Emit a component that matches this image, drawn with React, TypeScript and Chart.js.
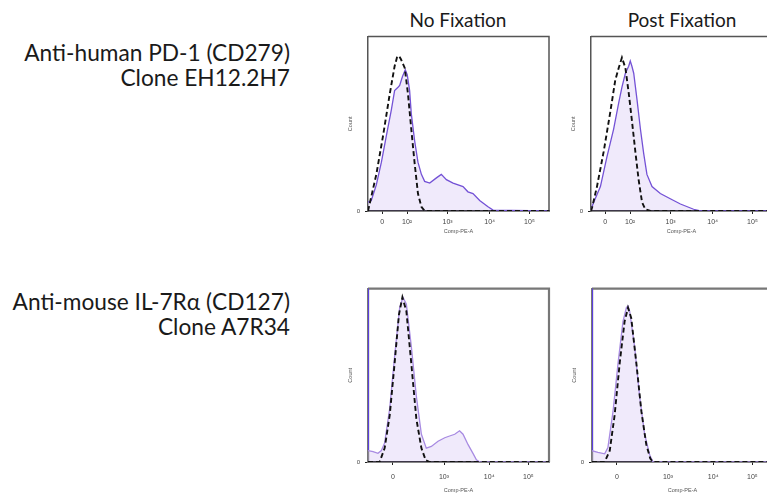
import React, { useEffect, useRef } from 'react';
import { Chart, registerables } from 'chart.js';

Chart.register(...registerables);

// ---------- text ----------
const columnTitles = ['No Fixation', 'Post Fixation'];
const rowLabelsPD1 = ['Anti-human PD-1 (CD279)', 'Clone EH12.2H7'];
const rowLabelsIL7 = ['Anti-mouse IL-7Rα (CD127)', 'Clone A7R34'];
const xAxisTitle = 'Comp-PE-A';
const yAxisTitle = 'Count';

// ---------- tick labels (x in display channels 0..1000) ----------
const topTickValues = [79, 216, 440, 672, 892];
const topTickLabels = ['0', '10²', '10³', '10⁴', '10⁵'];
const bottomTickValues = [138, 420, 670, 886];
const bottomTickLabels = ['0', '10³', '10⁴', '10⁵'];

// ---------- PD-1, No Fixation ----------
const pd1NoFixStainedX = [0, 18, 46, 74, 101, 129, 147, 166, 175, 190, 206, 217, 230, 239, 258, 276, 295, 313, 341, 378, 405, 433, 470, 525, 552, 580, 617, 663, 691, 1000];
const pd1NoFixStainedY = [5, 6, 15, 28, 43, 58, 69, 71, 72, 77, 81, 78, 69, 56, 40, 28, 21, 17, 16, 19, 21, 18, 16, 14, 11, 10, 6, 2.4, 0.5, 0];
const pd1NoFixIsotypeX = [0, 9, 46, 83, 120, 147, 160, 171, 182, 203, 221, 239, 258, 276, 295, 313, 1000];
const pd1NoFixIsotypeY = [0, 4, 21, 43, 67, 83, 88, 89, 87, 82, 67, 47, 27, 10, 2.4, 0, 0];

// ---------- PD-1, Post Fixation ----------
const pd1PostFixStainedX = [0, 15, 52, 88, 125, 153, 171, 190, 199, 208, 217, 226, 236, 254, 273, 291, 309, 337, 383, 438, 494, 567, 604, 1000];
const pd1PostFixStainedY = [1, 5, 14, 31, 47, 62, 71, 79, 81, 83, 86, 83, 79, 64, 47, 33, 21, 14, 10, 7, 4, 1, 0, 0];
const pd1PostFixIsotypeX = [0, 6, 33, 70, 107, 134, 153, 171, 190, 208, 227, 245, 263, 282, 300, 328, 1000];
const pd1PostFixIsotypeY = [0, 2, 14, 34, 57, 75, 82, 88, 82, 68, 51, 34, 18, 5, 1, 0, 0];

// ---------- IL-7Rα, No Fixation ----------
const il7NoFixStainedX = [0, 0, 28, 55, 74, 92, 120, 147, 175, 193, 212, 239, 267, 295, 322, 350, 387, 424, 451, 479, 506, 525, 553, 580, 599, 617, 1000];
const il7NoFixStainedY = [150, 6.6, 6, 5, 6.6, 11, 31, 61, 89, 95, 91, 67, 38, 16, 8, 9, 12, 14, 15, 16, 18, 16, 10, 5, 1.3, 0, 0];
const il7NoFixIsotypeX = [0, 64, 92, 120, 147, 171, 190, 212, 239, 267, 295, 319, 341, 1000];
const il7NoFixIsotypeY = [0, 0, 8, 27, 57, 85, 95, 87, 57, 25, 8, 1, 0, 0];

// ---------- IL-7Rα, Post Fixation ----------
const il7PostFixStainedX = [0, 0, 33, 70, 88, 116, 144, 171, 190, 199, 208, 236, 263, 291, 319, 337, 1000];
const il7PostFixStainedY = [150, 6.5, 5.6, 4.7, 8.4, 29, 57, 81, 89, 90, 87, 66, 38, 16, 4, 0, 0];
const il7PostFixIsotypeX = [0, 70, 98, 125, 153, 180, 199, 217, 245, 273, 300, 322, 337, 1000];
const il7PostFixIsotypeY = [0, 0, 6.5, 27, 57, 81, 89, 83, 57, 29, 10, 2, 0, 0];

const TICK_FONT = 'Liberation Sans, Arial, sans-serif';
const TEXT_FONT = 'Lato, "Open Sans", sans-serif';

type PanelProps = {
  plotLeft: number;
  plotTop: number;
  plotW: number;
  plotH: number;
  xAxisH: number;
  tickPad: number;
  tickValues: number[];
  tickLabels: string[];
  stainedX: number[];
  stainedY: number[];
  isotypeX: number[];
  isotypeY: number[];
  lineColor: string;
  spikeColor: string;
  frameColor: string;
  frameWidth: number;
};

const Y_AXIS_W = 28;
const PAD_TOP = 4;
const PAD_RIGHT = 6;

function Panel(p: PanelProps) {
  const ref = useRef<HTMLCanvasElement | null>(null);
  const width = Y_AXIS_W + p.plotW + PAD_RIGHT;
  const height = PAD_TOP + p.plotH + p.xAxisH;

  useEffect(() => {
    if (!ref.current) return;
    const toPts = (xs: number[], ys: number[]) => xs.map((x, i) => ({ x, y: ys[i] }));
    const framePlugin = {
      id: 'frameTopRight',
      beforeDatasetsDraw(chart: any) {
        const { ctx, chartArea } = chart;
        const { left, top, right, bottom } = chartArea;
        ctx.save();
        ctx.strokeStyle = p.frameColor;
        ctx.lineWidth = p.frameWidth;
        ctx.beginPath();
        ctx.moveTo(left, top);
        ctx.lineTo(right, top);
        ctx.lineTo(right, bottom);
        ctx.stroke();
        ctx.restore();
      },
    };
    const chart = new Chart(ref.current, {
      type: 'line',
      data: {
        datasets: [
          {
            label: 'Isotype',
            data: toPts(p.isotypeX, p.isotypeY),
            borderColor: '#111111',
            borderWidth: 1.9,
            borderDash: [5, 3],
            fill: false,
            pointRadius: 0,
            tension: 0,
          },
          {
            label: 'Stained',
            data: toPts(p.stainedX, p.stainedY),
            borderColor: p.lineColor,
            borderWidth: 1.3,
            backgroundColor: 'rgba(196, 170, 238, 0.25)',
            fill: 'origin',
            pointRadius: 0,
            tension: 0,
            segment: {
              borderColor: (ctx: any) => (ctx.p0DataIndex === 0 && ctx.p0.parsed.y > 100 ? p.spikeColor : p.lineColor),
              borderWidth: (ctx: any) => (ctx.p0DataIndex === 0 && ctx.p0.parsed.y > 100 ? 2 : 1.3),
            },
          },
        ],
      },
      options: {
        animation: false,
        responsive: false,
        devicePixelRatio: 1,
        events: [],
        layout: { autoPadding: false, padding: { top: PAD_TOP, right: PAD_RIGHT, left: 0, bottom: 0 } },
        plugins: { legend: { display: false }, tooltip: { enabled: false }, title: { display: false } },
        scales: {
          x: {
            type: 'linear',
            min: 0,
            max: 1000,
            afterBuildTicks: (s: any) => {
              s.ticks = p.tickValues.map((v) => ({ value: v }));
            },
            afterFit: (s: any) => {
              s.height = p.xAxisH;
            },
            ticks: {
              autoSkip: false,
              maxRotation: 0,
              padding: p.tickPad,
              font: { size: 7, family: TICK_FONT },
              color: '#444',
              callback: (v: any) => {
                const i = p.tickValues.indexOf(Number(v));
                return i >= 0 ? p.tickLabels[i] : '';
              },
            },
            grid: { display: true, drawOnChartArea: false, drawTicks: true, tickLength: 3, color: '#222', lineWidth: 1 },
            border: { display: true, color: '#111', width: 1.6 },
            title: {
              display: true,
              text: xAxisTitle,
              font: { size: 5.5, family: TICK_FONT },
              color: '#555',
              padding: { top: 0, bottom: 0.5 },
            },
          },
          y: {
            type: 'linear',
            min: 0,
            max: 100,
            afterBuildTicks: (s: any) => {
              s.ticks = [{ value: 0 }];
            },
            afterFit: (s: any) => {
              s.width = Y_AXIS_W;
            },
            ticks: {
              padding: 5,
              font: { size: 6, family: TICK_FONT },
              color: '#444',
              callback: () => '0',
            },
            grid: { display: true, drawOnChartArea: false, drawTicks: true, tickLength: 3, color: '#222', lineWidth: 1 },
            border: { display: true, color: p.frameColor, width: p.frameWidth },
            title: {
              display: true,
              text: yAxisTitle,
              font: { size: 5.5, family: TICK_FONT },
              color: '#555',
              padding: { top: 6.7, bottom: 0 },
            },
          },
        },
      },
      plugins: [framePlugin],
    } as any);
    return () => chart.destroy();
  }, []);

  return (
    <canvas
      ref={ref}
      width={width}
      height={height}
      style={{
        position: 'absolute',
        left: p.plotLeft - Y_AXIS_W,
        top: p.plotTop - PAD_TOP,
        width,
        height,
      }}
    />
  );
}

function RowLabel({ lines, top }: { lines: string[]; top: number }) {
  return (
    <div
      style={{
        position: 'absolute',
        left: 0,
        top,
        width: 290,
        textAlign: 'right',
        fontFamily: TEXT_FONT,
        fontSize: 22.7,
        lineHeight: '25px',
        color: '#1a1a1a',
        whiteSpace: 'nowrap',
      }}
    >
      {lines.map((l, i) => (
        <div key={i}>{l}</div>
      ))}
    </div>
  );
}

function ColTitle({ text, cx }: { text: string; cx: number }) {
  return (
    <div
      style={{
        position: 'absolute',
        left: cx - 100,
        top: 10,
        width: 200,
        textAlign: 'center',
        fontFamily: TEXT_FONT,
        fontSize: 19,
        lineHeight: '20px',
        color: '#1a1a1a',
        whiteSpace: 'nowrap',
      }}
    >
      {text}
    </div>
  );
}

export default function App() {
  const topRow = { plotTop: 32, plotH: 179, xAxisH: 24, tickPad: 4 };
  const botRow = { plotTop: 284, plotH: 178, xAxisH: 32, tickPad: 8 };
  return (
    <div
      style={{
        position: 'fixed',
        left: 0,
        top: 0,
        width: 767,
        height: 499,
        overflow: 'hidden',
        background: '#fff',
      }}
    >
      <ColTitle text={columnTitles[0]} cx={458} />
      <ColTitle text={columnTitles[1]} cx={682} />
      <RowLabel lines={rowLabelsPD1} top={40} />
      <RowLabel lines={rowLabelsIL7} top={289} />

      <Panel
        plotLeft={368}
        plotW={181}
        {...topRow}
        tickValues={topTickValues}
        tickLabels={topTickLabels}
        stainedX={pd1NoFixStainedX}
        stainedY={pd1NoFixStainedY}
        isotypeX={pd1NoFixIsotypeX}
        isotypeY={pd1NoFixIsotypeY}
        lineColor="#7452d6"
        spikeColor="#5b3fe0"
        frameColor="#555"
        frameWidth={1.5}
      />
      <Panel
        plotLeft={591}
        plotW={181}
        {...topRow}
        tickValues={topTickValues}
        tickLabels={topTickLabels}
        stainedX={pd1PostFixStainedX}
        stainedY={pd1PostFixStainedY}
        isotypeX={pd1PostFixIsotypeX}
        isotypeY={pd1PostFixIsotypeY}
        lineColor="#7452d6"
        spikeColor="#5b3fe0"
        frameColor="#555"
        frameWidth={1.5}
      />
      <Panel
        plotLeft={368}
        plotW={181}
        {...botRow}
        tickValues={bottomTickValues}
        tickLabels={bottomTickLabels}
        stainedX={il7NoFixStainedX}
        stainedY={il7NoFixStainedY}
        isotypeX={il7NoFixIsotypeX}
        isotypeY={il7NoFixIsotypeY}
        lineColor="#a88be2"
        spikeColor="#5b3fe0"
        frameColor="#777"
        frameWidth={2.2}
      />
      <Panel
        plotLeft={592}
        plotW={181}
        {...botRow}
        tickValues={bottomTickValues}
        tickLabels={bottomTickLabels}
        stainedX={il7PostFixStainedX}
        stainedY={il7PostFixStainedY}
        isotypeX={il7PostFixIsotypeX}
        isotypeY={il7PostFixIsotypeY}
        lineColor="#a88be2"
        spikeColor="#5b3fe0"
        frameColor="#777"
        frameWidth={2.2}
      />
    </div>
  );
}
